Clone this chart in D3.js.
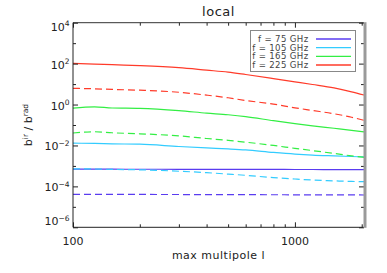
<!DOCTYPE html>
<html><head><meta charset="utf-8">
<script src="https://cdn.jsdelivr.net/npm/d3@7"></script>
<style>
html,body{margin:0;padding:0;background:#fff;}
svg{display:block;font-family:"DejaVu Sans",sans-serif;}
</style></head>
<body><svg id="c" width="387" height="273"></svg>
<script>
const ell = [100,125,150,200,300,400,500,600,800,1000,1200,1500,1800,2048];
const f75solid  = [6.92e-4,6.92e-4,6.90e-4,6.88e-4,6.85e-4,6.80e-4,6.78e-4,6.75e-4,6.72e-4,6.70e-4,6.68e-4,6.65e-4,6.63e-4,6.61e-4];
const f75dash   = [4.07e-5,4.07e-5,4.05e-5,4.03e-5,4.00e-5,3.97e-5,3.95e-5,3.93e-5,3.90e-5,3.88e-5,3.86e-5,3.84e-5,3.82e-5,3.80e-5];
const f105solid = [0.0129,0.0126,0.0120,0.0115,0.00891,0.00759,0.00676,0.00603,0.00457,0.00380,0.00339,0.00309,0.00288,0.00275];
const f105dash  = [7.24e-4,7.08e-4,6.76e-4,6.46e-4,5.50e-4,4.68e-4,3.98e-4,3.47e-4,2.69e-4,2.29e-4,2.04e-4,1.86e-4,1.74e-4,1.70e-4];
const f165solid = [0.661,0.776,0.676,0.646,0.501,0.380,0.316,0.257,0.162,0.117,0.0912,0.0692,0.0550,0.0457];
const f165dash  = [0.0407,0.0468,0.0417,0.0372,0.0295,0.0219,0.0178,0.0145,0.0100,0.00724,0.00562,0.00407,0.00309,0.00263];
const f225solid = [103.7,95.5,88.5,79.4,63.1,47.9,38.5,29.4,18.6,12.9,9.55,6.46,4.17,2.92];
const f225dash  = [6.17,5.89,5.50,5.01,3.98,2.88,2.14,1.58,1.05,0.692,0.513,0.355,0.240,0.170];
const legendLabels = ["f = 75 GHz","f = 105 GHz","f = 165 GHz","f = 225 GHz"];
const colors = ["#5a3cf0","#33ccff","#33ee44","#ff3b2a"];
const yMajor = [1e-6,1e-4,1e-2,1e0,1e2,1e4];
const yMajorExp = ["−6","−4","−2","0","2","4"];
const yMinor = [1e-5,1e-3,1e-1,1e1,1e3];
const xMajor = [100,1000];
const xMinor = [200,300,400,500,600,700,800,900,2000];

const series = [
  {v:f75solid,c:0,dash:false},{v:f75dash,c:0,dash:true},
  {v:f105solid,c:1,dash:false},{v:f105dash,c:1,dash:true},
  {v:f165solid,c:2,dash:false},{v:f165dash,c:2,dash:true},
  {v:f225solid,c:3,dash:false},{v:f225dash,c:3,dash:true}
];

const L=73,R=364,T=22.7,B=227.3;
const svg=d3.select("#c");
const x=d3.scaleLog().domain([100,2048]).range([L,R]);
const y=d3.scaleLog().domain([1e-6,1e4]).range([B,T]);

// lines
const line=d3.line().x((d,i)=>x(ell[i])).y(d=>y(d)).curve(d3.curveMonotoneX);
svg.append("g").selectAll("path").data(series).join("path")
  .attr("d",d=>line(d.v)).attr("fill","none")
  .attr("stroke",d=>colors[d.c]).attr("stroke-width",1.2)
  .attr("stroke-dasharray",d=>d.dash?"7,4":null);

// axes
function axisG(gen,tr){
  const g=svg.append("g").attr("transform",tr).call(gen);
  g.select(".domain").remove();
  g.selectAll(".tick line").attr("stroke","#222").attr("stroke-width",1);
  return g;
}
axisG(d3.axisBottom(x).tickValues(xMajor).tickSize(-5).tickFormat(""),`translate(0,${B})`);
axisG(d3.axisBottom(x).tickValues(xMinor).tickSize(-3).tickFormat(""),`translate(0,${B})`);
axisG(d3.axisTop(x).tickValues(xMajor).tickSize(-5).tickFormat(""),`translate(0,${T})`);
axisG(d3.axisTop(x).tickValues(xMinor).tickSize(-3).tickFormat(""),`translate(0,${T})`);
axisG(d3.axisLeft(y).tickValues(yMajor).tickSize(-5).tickFormat(""),`translate(${L},0)`);
axisG(d3.axisLeft(y).tickValues(yMinor).tickSize(-3).tickFormat(""),`translate(${L},0)`);
axisG(d3.axisRight(y).tickValues(yMajor).tickSize(-5).tickFormat(""),`translate(${R},0)`);
axisG(d3.axisRight(y).tickValues(yMinor).tickSize(-3).tickFormat(""),`translate(${R},0)`);

// frame
svg.append("line").attr("x1",L).attr("x2",R).attr("y1",B).attr("y2",B).attr("stroke","#222");
svg.append("line").attr("x1",L).attr("x2",R).attr("y1",T).attr("y2",T).attr("stroke","#333");
svg.append("line").attr("x1",L).attr("x2",L).attr("y1",T).attr("y2",B).attr("stroke","#222");
svg.append("line").attr("x1",R+1).attr("x2",R+1).attr("y1",T-0.5).attr("y2",B+0.5).attr("stroke","#9a9a9a").attr("stroke-width",3);

// x tick labels
svg.append("g").selectAll("text").data(xMajor).join("text")
  .attr("x",d=>x(d)).attr("y",244.5).attr("text-anchor","middle")
  .attr("font-size",11).attr("fill","#222").text(d=>d);

// y tick labels
const yl=svg.append("g").selectAll("text").data(yMajor).join("text")
  .attr("x",L-3.5).attr("y",(d,i)=>y(d)+5+(i===0?-7:(i===yMajor.length-1?3:0)))
  .attr("text-anchor","end").attr("font-size",11).attr("fill","#222");
yl.append("tspan").text("10");
yl.append("tspan").attr("font-size",7.5).attr("dy",-4.5).text((d,i)=>yMajorExp[i]);

// title
svg.append("text").attr("x",(L+R)/2).attr("y",16).attr("text-anchor","middle")
  .attr("font-size",13).attr("letter-spacing",0.5).attr("fill","#222").text("local");
// x label
svg.append("text").attr("x",(L+R)/2).attr("y",259).attr("text-anchor","middle")
  .attr("font-size",11).attr("letter-spacing",0.5).attr("fill","#222").text("max multipole l");
// y label
const ylab=svg.append("text").attr("transform",`translate(32,${(T+B)/2}) rotate(-90)`)
  .attr("text-anchor","middle").attr("font-size",11).attr("fill","#222");
ylab.append("tspan").text("b");
ylab.append("tspan").attr("font-size",7.5).attr("dy",-4.5).text("ir");
ylab.append("tspan").attr("dy",4.5).text(" / b");
ylab.append("tspan").attr("font-size",7.5).attr("dy",-4.5).text("rad");

// legend
const lg=svg.append("g");
lg.append("rect").attr("x",250.5).attr("y",30.5).attr("width",105).attr("height",41)
  .attr("fill","#fff").attr("stroke","#888").attr("stroke-width",1);
const rowY=d3.scalePoint().domain(legendLabels).range([39,65]);
lg.selectAll("text").data(legendLabels).join("text")
  .attr("x",308.5).attr("y",d=>rowY(d)+3).attr("text-anchor","end")
  .attr("font-size",8.6).attr("letter-spacing",0.35).attr("fill","#444").text(d=>d);
lg.selectAll("line").data(legendLabels).join("line")
  .attr("x1",316).attr("x2",351).attr("y1",d=>rowY(d)).attr("y2",d=>rowY(d))
  .attr("stroke",(d,i)=>colors[i]).attr("stroke-width",1.3);
</script></body></html>
